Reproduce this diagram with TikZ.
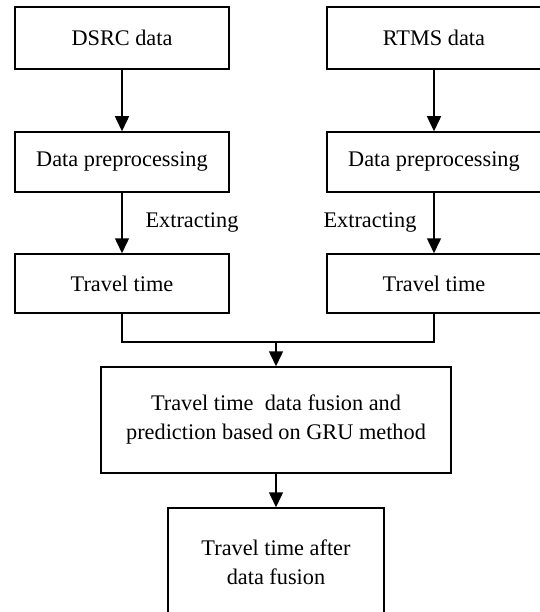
\documentclass[tikz,border=0pt]{standalone}
\usepackage{fontspec}
\setmainfont{Liberation Serif}
\usetikzlibrary{arrows.meta}
\begin{document}
\begin{tikzpicture}[x=1pt,y=-1pt,
  box/.style={draw,line width=1.5pt,inner sep=0pt,align=center,
    font=\fontsize{22.3}{29}\selectfont},
  lbl/.style={inner sep=0pt,font=\fontsize{22.3}{29}\selectfont},
  conn/.style={line width=1.5pt},
  arr/.style={conn,-{Triangle[width=14pt,length=15pt]}}]
\useasboundingbox (0,0) rectangle (539,612);
\node[box,minimum width=214pt,minimum height=62pt] (dsrc) at (122,38) {DSRC data};
\node[box,minimum width=214pt,minimum height=62pt] (rtms) at (434,38) {RTMS data};
\node[box,minimum width=214pt,minimum height=60pt] (pre1) at (122,162) {Data preprocessing};
\node[box,minimum width=214pt,minimum height=60pt] (pre2) at (434,162) {Data preprocessing};
\node[box,minimum width=214pt,minimum height=59pt] (tt1) at (122,283.5) {Travel time};
\node[box,minimum width=214pt,minimum height=59pt] (tt2) at (434,283.5) {Travel time};
\node[box,minimum width=350pt,minimum height=106pt] (fus) at (276,420) {Travel time\ \ data fusion and\\prediction based on GRU method};
\node[box,minimum width=216pt,minimum height=108pt] (fin) at (276,562) {Travel time after\\data fusion};
\node[lbl] (ex1) at (192,223) {Extracting};
\node[lbl] (ex2) at (370,223) {Extracting};
\coordinate (j) at (276,342);
\draw[arr] (dsrc) -- (pre1);
\draw[arr] (rtms) -- (pre2);
\draw[arr] (pre1) -- (tt1);
\draw[arr] (pre2) -- (tt2);
\draw[conn] (tt1.south) |- (j) -| (tt2.south);
\draw[arr] (j) -- (fus.north);
\draw[arr] (fus) -- (fin);
\end{tikzpicture}
\end{document}
